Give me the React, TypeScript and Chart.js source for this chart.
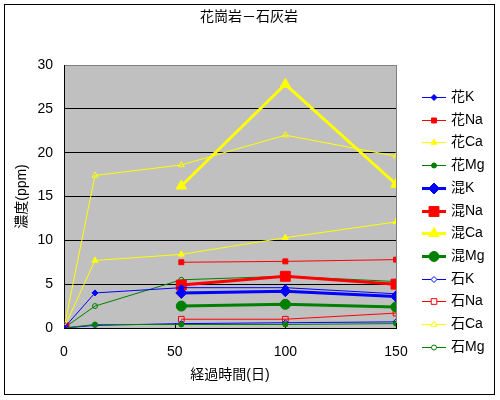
import React, { useEffect, useRef } from 'react';
import { Chart, registerables } from 'chart.js';
import { drawPoint } from 'chart.js/helpers';

Chart.register(...registerables);

const chartTitle = '花崗岩－石灰岩';
const days = [0, 14, 53, 100, 150];
const seriesNames = ['花K', '花Na', '花Ca', '花Mg', '混K', '混Na', '混Ca', '混Mg', '石K', '石Na', '石Ca', '石Mg'];
const kaK = [0, 4.0, 4.6, 4.6, 3.9];
const kaNa = [0, null, 7.5, 7.6, 7.8];
const kaCa = [0, 7.7, 8.4, 10.3, 12.1];
const kaMg = [0, 0.4, 0.4, 0.4, 0.5];
const konK = [0, null, 4.0, 4.2, 3.6];
const konNa = [0, null, 4.9, 5.9, 5.0];
const konCa = [0, null, 16.2, 27.8, 16.4];
const konMg = [0, null, 2.5, 2.7, 2.4];
const ishiK = [0, 0.3, 0.5, 0.6, 0.7];
const ishiNa = [0, null, 1.0, 1.0, 1.7];
const ishiCa = [0, 17.4, 18.6, 22.0, 19.6];
const ishiMg = [0, 2.5, 5.5, 5.9, 5.3];
const yTicks = [0, 5, 10, 15, 20, 25, 30];
const xTicks = [0, 50, 100, 150];

const FONT = "'Liberation Sans', 'Noto Sans CJK JP', sans-serif";
const BLUE = '#0000FF';
const RED = '#FF0000';
const YELLOW = '#FFFF00';
const GREEN = '#008000';

type Style = { color: string; shape: string; radius: number; width: number; hollow: boolean };

const styles: Style[] = [
  { color: BLUE, shape: 'rectRot', radius: 3, width: 1, hollow: false },
  { color: RED, shape: 'rect', radius: 3.5, width: 1, hollow: false },
  { color: YELLOW, shape: 'triangle', radius: 3.5, width: 1, hollow: false },
  { color: GREEN, shape: 'circle', radius: 2.5, width: 1, hollow: false },
  { color: BLUE, shape: 'rectRot', radius: 5.5, width: 3, hollow: false },
  { color: RED, shape: 'rect', radius: 7, width: 3, hollow: false },
  { color: YELLOW, shape: 'triangle', radius: 6, width: 3, hollow: false },
  { color: GREEN, shape: 'circle', radius: 5, width: 3, hollow: false },
  { color: BLUE, shape: 'rectRot', radius: 3, width: 1, hollow: true },
  { color: RED, shape: 'rect', radius: 4, width: 1, hollow: true },
  { color: YELLOW, shape: 'triangle', radius: 3.5, width: 1, hollow: true },
  { color: GREEN, shape: 'circle', radius: 2.5, width: 1, hollow: true },
];

const seriesValues = [kaK, kaNa, kaCa, kaMg, konK, konNa, konCa, konMg, ishiK, ishiNa, ishiCa, ishiMg];

const framePlugin = {
  id: 'framePlugin',
  beforeDraw(chart: any) {
    const { ctx, chartArea } = chart;
    ctx.save();
    ctx.fillStyle = '#FFFFFF';
    ctx.fillRect(0, 0, chart.width, chart.height);
    ctx.fillStyle = '#C0C0C0';
    ctx.fillRect(chartArea.left, chartArea.top, chartArea.right - chartArea.left, chartArea.bottom - chartArea.top);
    ctx.restore();
  },
  beforeDatasetsDraw(chart: any) {
    const { ctx, chartArea, scales } = chart;
    ctx.save();
    ctx.strokeStyle = '#808080';
    ctx.lineWidth = 1;
    ctx.beginPath();
    ctx.moveTo(Math.round(chartArea.right) + 0.5, chartArea.top);
    ctx.lineTo(Math.round(chartArea.right) + 0.5, chartArea.bottom);
    ctx.stroke();
    ctx.strokeStyle = '#000000';
    xTicks.forEach((v) => {
      if (v === 0) return;
      const px = Math.round(scales.x.getPixelForValue(v)) + 0.5;
      ctx.beginPath();
      ctx.moveTo(px, chartArea.bottom);
      ctx.lineTo(px, chartArea.bottom - 5);
      ctx.stroke();
    });
    ctx.restore();
  },
  afterDraw(chart: any) {
    const { ctx } = chart;
    ctx.save();
    // title
    ctx.font = `14px ${FONT}`;
    ctx.fillStyle = '#000000';
    ctx.textAlign = 'center';
    ctx.textBaseline = 'middle';
    ctx.fillText(chartTitle, 249, 17);
    // legend
    const lx1 = 422;
    const lx2 = 446;
    const top = 97;
    const step = 22.7;
    ctx.textBaseline = 'middle';
    ctx.textAlign = 'left';
    seriesNames.forEach((name, i) => {
      const s = styles[i];
      const y = Math.round(top + i * step) + 0.5;
      ctx.strokeStyle = s.color;
      ctx.lineWidth = s.width;
      ctx.beginPath();
      ctx.moveTo(lx1, y);
      ctx.lineTo(lx2, y);
      ctx.stroke();
      ctx.fillStyle = s.hollow ? '#FFFFFF' : s.color;
      ctx.strokeStyle = s.color;
      ctx.lineWidth = 1;
      drawPoint(ctx, { pointStyle: s.shape, radius: s.radius, rotation: 0, borderWidth: 1 } as any, (lx1 + lx2) / 2, y);
      ctx.fillStyle = '#000000';
      ctx.fillText(name, 451, y);
    });
    // outer frame
    ctx.strokeStyle = '#000000';
    ctx.lineWidth = 1;
    ctx.strokeRect(4.5, 4.5, 490, 390);
    ctx.restore();
  },
};

export default function App() {
  const ref = useRef<HTMLCanvasElement | null>(null);
  useEffect(() => {
    if (!ref.current) return;
    const datasets = seriesNames.map((name, i) => {
      const s = styles[i];
      return {
        label: name,
        data: days.map((d, j) => ({ x: d, y: seriesValues[i][j] })),
        borderColor: s.color,
        backgroundColor: s.hollow ? 'rgba(0,0,0,0)' : s.color,
        borderWidth: s.width,
        pointStyle: s.shape,
        pointRadius: s.radius,
        pointBorderWidth: 1,
        pointBorderColor: s.color,
        pointBackgroundColor: s.hollow ? 'rgba(0,0,0,0)' : s.color,
        spanGaps: false,
        tension: 0,
        fill: false,
      };
    });
    const chart = new Chart(ref.current, {
      type: 'line',
      data: { datasets } as any,
      plugins: [framePlugin],
      options: {
        animation: false,
        responsive: false,
        devicePixelRatio: 1,
        layout: { padding: { left: 0, right: 104, top: 65, bottom: 0 } },
        plugins: {
          legend: { display: false },
          tooltip: { enabled: false },
          title: { display: false },
        },
        scales: {
          x: {
            type: 'linear',
            min: 0,
            max: 150,
            afterFit: (scale: any) => { scale.height = 72; },
            afterBuildTicks: (scale: any) => { scale.ticks = xTicks.map((v) => ({ value: v })); },
            grid: { display: false, drawTicks: false },
            border: { display: true, color: '#000000', width: 1 },
            ticks: { color: '#000000', font: { size: 14, family: FONT }, padding: 16, maxRotation: 0 },
            title: {
              display: true,
              text: '経過時間(日)',
              color: '#000000',
              font: { size: 14, family: FONT },
              padding: { top: 0, bottom: 16 },
            },
          },
          y: {
            type: 'linear',
            min: 0,
            max: 30,
            afterFit: (scale: any) => { scale.width = 64; },
            afterBuildTicks: (scale: any) => { scale.ticks = yTicks.map((v) => ({ value: v })); },
            grid: {
              drawTicks: false,
              color: (c: any) => (c.tick && c.tick.value === 30 ? '#808080' : '#000000'),
            },
            border: { display: true, color: '#000000', width: 1 },
            ticks: { color: '#000000', font: { size: 14, family: FONT }, padding: 11 },
            title: {
              display: true,
              text: '濃度(ppm)',
              color: '#000000',
              font: { size: 14, family: FONT },
              padding: { top: 14, bottom: 0 },
            },
          },
        },
      } as any,
    });
    return () => chart.destroy();
  }, []);
  return (
    <div style={{ position: 'fixed', left: 0, top: 0, width: 500, height: 400 }}>
      <canvas ref={ref} width={500} height={400} style={{ width: 500, height: 400 }} />
    </div>
  );
}
